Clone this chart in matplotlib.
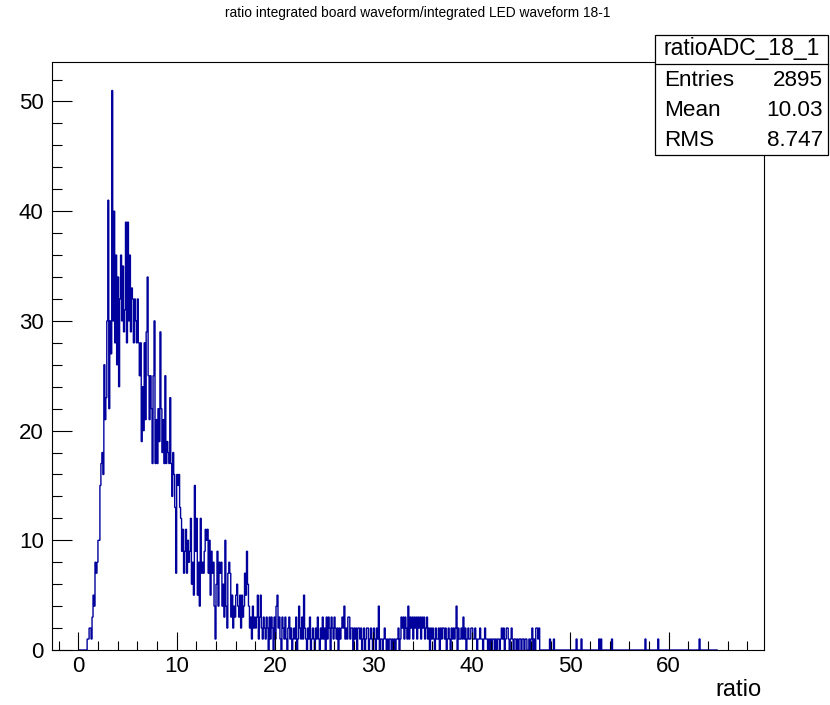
import numpy as np
import matplotlib.pyplot as plt
from matplotlib import font_manager
from matplotlib.patches import Rectangle
from matplotlib.lines import Line2D
from matplotlib.ticker import MultipleLocator

W, H = 830, 705

# bin contents, bins 0.1 wide, one list per 10 units of ratio
counts_00_10 = [0, 0, 0, 0, 0, 0, 0, 0, 0, 1,
                1, 2, 2, 1, 3, 5, 4, 8, 7, 8,
                10, 10, 15, 17, 18, 16, 26, 21, 23, 30,
                41, 22, 30, 27, 51, 30, 40, 28, 36, 26,
                34, 24, 32, 36, 30, 35, 29, 31, 39, 28,
                39, 30, 36, 29, 33, 32, 28, 32, 30, 28,
                32, 28, 25, 28, 19, 24, 20, 28, 21, 29,
                34, 25, 21, 25, 22, 17, 25, 30, 17, 21,
                17, 22, 19, 29, 22, 18, 21, 17, 25, 17,
                19, 18, 17, 23, 17, 14, 18, 16, 13, 7]
counts_10_20 = [16, 15, 16, 13, 12, 9, 11, 7, 9, 11,
                7, 10, 8, 9, 12, 6, 8, 5, 15, 9,
                12, 5, 8, 4, 12, 7, 8, 7, 9, 11,
                10, 11, 7, 10, 5, 9, 7, 8, 4, 1,
                6, 9, 4, 8, 7, 8, 4, 6, 3, 10,
                4, 2, 7, 8, 7, 3, 5, 2, 4, 3,
                5, 6, 4, 3, 5, 2, 5, 3, 4, 7,
                5, 9, 6, 4, 2, 3, 1, 4, 2, 3,
                2, 3, 5, 1, 3, 5, 2, 1, 3, 2,
                1, 3, 2, 0, 3, 1, 3, 2, 0, 3]
counts_20_30 = [1, 4, 5, 2, 3, 1, 0, 3, 2, 1,
                3, 1, 0, 2, 3, 1, 2, 0, 1, 2,
                1, 3, 0, 1, 4, 2, 1, 3, 1, 5,
                2, 1, 0, 2, 1, 3, 0, 1, 2, 1,
                0, 2, 1, 3, 1, 0, 2, 1, 3, 1,
                2, 0, 3, 1, 3, 2, 0, 3, 2, 1,
                3, 2, 1, 2, 0, 2, 1, 2, 3, 2,
                4, 1, 2, 1, 3, 3, 1, 2, 2, 0,
                2, 1, 2, 0, 2, 2, 1, 2, 0, 1,
                2, 0, 1, 2, 2, 0, 1, 2, 1, 0]
counts_30_40 = [2, 1, 0, 2, 1, 4, 0, 1, 1, 0,
                1, 2, 1, 0, 1, 0, 1, 1, 0, 1,
                0, 1, 0, 1, 1, 2, 0, 1, 3, 2,
                3, 1, 3, 2, 1, 4, 1, 3, 2, 3,
                1, 3, 2, 3, 1, 3, 2, 3, 1, 3,
                2, 3, 1, 2, 3, 1, 2, 0, 2, 1,
                2, 1, 0, 2, 1, 1, 2, 0, 2, 1,
                2, 2, 1, 2, 0, 1, 2, 1, 0, 2,
                1, 2, 1, 2, 4, 0, 2, 1, 1, 2,
                1, 3, 1, 2, 0, 1, 2, 1, 1, 2]
counts_40_50 = [2, 1, 1, 2, 1, 0, 1, 1, 2, 1,
                1, 0, 1, 2, 1, 1, 0, 1, 0, 1,
                0, 1, 1, 0, 1, 0, 1, 1, 0, 1,
                2, 1, 2, 0, 1, 2, 2, 1, 0, 1,
                2, 1, 0, 1, 1, 0, 1, 0, 1, 1,
                0, 1, 1, 0, 1, 1, 0, 0, 1, 0,
                1, 2, 0, 1, 0, 2, 2, 1, 2, 0,
                0, 0, 0, 0, 0, 0, 0, 0, 0, 1,
                0, 0, 0, 1, 0, 0, 0, 0, 0, 0,
                0, 0, 0, 0, 0, 0, 0, 0, 0, 0]
# lone entries in the sparse tail above 50
tail_entries = [50.65, 51.15, 52.95, 53.15, 54.25, 57.65, 58.95, 63.15]

title = "ratio integrated board waveform/integrated LED waveform 18-1"
hist_name = "ratioADC_18_1"
stat_names = ["Entries", "Mean", "RMS"]
stat_values = ["2895", "10.03", "8.747"]

plt.rcParams['font.family'] = 'Liberation Sans'

edges = np.round(np.linspace(0, 65, 651), 2)
tail, _ = np.histogram(tail_entries, bins=edges[500:])
counts = np.concatenate([counts_00_10, counts_10_20, counts_20_30,
                         counts_30_40, counts_40_50, tail])


def fx(px):
    return px / W


def fy(py):
    return 1 - py / H


fig = plt.figure(figsize=(W / 100, H / 100), dpi=100)
ax = fig.add_axes([fx(52), fy(650), (764 - 52) / W, (650 - 62) / H])

ax.stairs(counts, edges, color='#00009c', lw=1.0, baseline=0)

ax.set_xlim(-2.67, 69.7)
ax.set_ylim(0, 53.6)
ax.set_xticks(range(0, 70, 10))
ax.set_yticks(range(0, 60, 10))
ax.xaxis.set_minor_locator(MultipleLocator(2))
ax.yaxis.set_minor_locator(MultipleLocator(2))
ax.tick_params(which='both', direction='in', top=False, right=False,
               width=0.8, labelsize=16)
ax.tick_params(axis='x', which='major', length=13, pad=4)
ax.tick_params(axis='x', which='minor', length=6.5)
ax.tick_params(axis='y', which='major', length=14.5, pad=6)
ax.tick_params(axis='y', which='minor', length=7)
for s in ax.spines.values():
    s.set_linewidth(0.8)

fig.text(fx(761), fy(690), 'ratio', ha='right', va='center', size=17)

# title, narrow face when it is available
installed = {f.name for f in font_manager.fontManager.ttflist}
if 'Liberation Sans Narrow' in installed:
    fig.text(fx(418), fy(13), title, ha='center', va='center',
             family='Liberation Sans Narrow', size=11.5)
else:
    fig.text(fx(418), fy(13), title, ha='center', va='center', size=9.9)

# statistics box
bx0, bx1, by0, by1 = 655, 828, 35, 155
fig.add_artist(Rectangle((fx(bx0), fy(by1)), (bx1 - bx0) / W, (by1 - by0) / H,
                         transform=fig.transFigure, facecolor='white',
                         edgecolor='black', lw=0.9, zorder=5))
fig.add_artist(Line2D([fx(bx0), fx(bx1)], [fy(64), fy(64)],
                      transform=fig.transFigure, color='black', lw=0.9, zorder=6))
fig.text(fx((bx0 + bx1) / 2), fy(49), hist_name, ha='center', va='center',
         size=16.5, zorder=7)
for i, (n, v) in enumerate(zip(stat_names, stat_values)):
    yy = fy(80 + 30 * i)
    fig.text(fx(664), yy, n, ha='left', va='center', size=16.2, zorder=7)
    fig.text(fx(823), yy, v, ha='right', va='center', size=16.2, zorder=7)

fig.savefig('out.png', dpi=100)
